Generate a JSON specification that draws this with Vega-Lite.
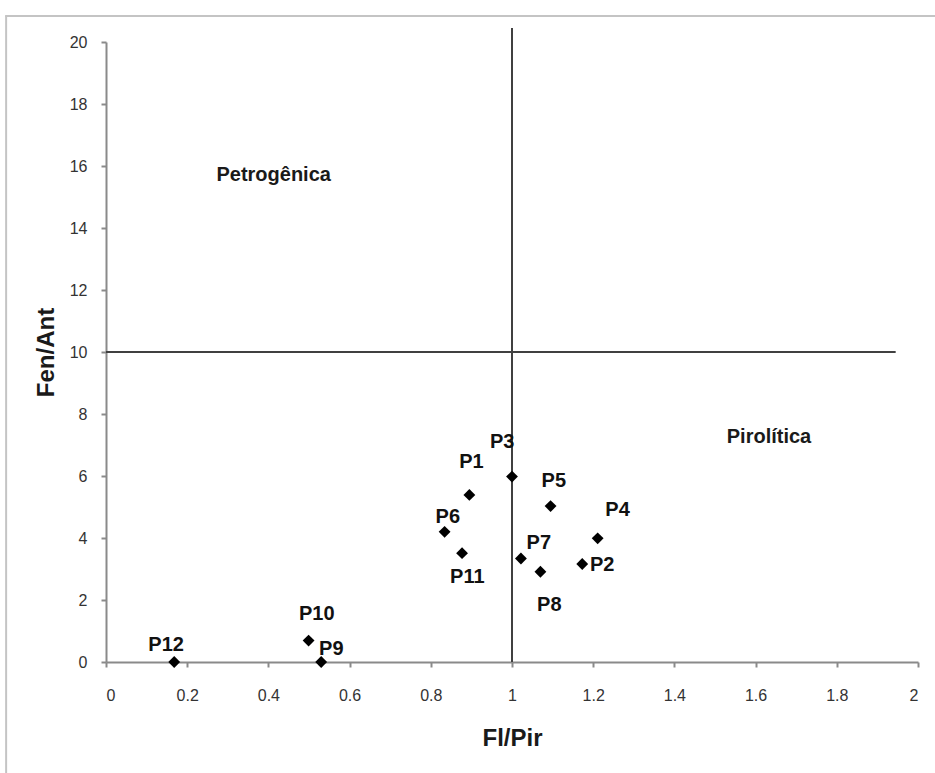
{
  "$schema": "https://vega.github.io/schema/vega-lite/v6.json",
  "autosize": {"type": "none"},
  "width": 812,
  "height": 620,
  "padding": {"left": 106, "top": 42, "right": 17, "bottom": 111},
  "background": "white",
  "config": {
    "view": {"stroke": null},
    "font": "Liberation Sans"
  },
  "datasets": {
    "points": [
      {"site": "P1", "flpir": 0.895, "fenant": 5.39, "lx": 0.90, "ly": 6.46},
      {"site": "P2", "flpir": 1.173, "fenant": 3.16, "lx": 1.222, "ly": 3.13},
      {"site": "P3", "flpir": 1.0, "fenant": 5.98, "lx": 0.976, "ly": 7.1},
      {"site": "P4", "flpir": 1.211, "fenant": 3.99, "lx": 1.26, "ly": 4.9},
      {"site": "P5", "flpir": 1.095, "fenant": 5.03, "lx": 1.103, "ly": 5.84},
      {"site": "P6", "flpir": 0.834, "fenant": 4.2, "lx": 0.842, "ly": 4.69},
      {"site": "P7", "flpir": 1.022, "fenant": 3.34, "lx": 1.066, "ly": 3.85},
      {"site": "P8", "flpir": 1.07, "fenant": 2.91, "lx": 1.092, "ly": 1.84},
      {"site": "P9", "flpir": 0.53, "fenant": 0.0, "lx": 0.555, "ly": 0.41},
      {"site": "P10", "flpir": 0.499, "fenant": 0.69, "lx": 0.519, "ly": 1.55},
      {"site": "P11", "flpir": 0.877, "fenant": 3.51, "lx": 0.89, "ly": 2.75},
      {"site": "P12", "flpir": 0.168, "fenant": 0.0, "lx": 0.148, "ly": 0.55}
    ],
    "regions": [
      {"name": "Petrogênica", "x": 0.413, "y": 15.7},
      {"name": "Pirolítica", "x": 1.633, "y": 7.26}
    ],
    "refs": [
      {"x": 1, "x2": 1, "y": 0, "y2": 20.45},
      {"x": 0, "x2": 1.945, "y": 10, "y2": 10}
    ],
    "frame": [
      {"x": -0.2485, "x2": 2.05, "y": 20.84, "y2": 20.84},
      {"x": -0.246, "x2": -0.246, "y": 20.84, "y2": -3.6}
    ]
  },
  "layer": [
    {
      "data": {"name": "frame"},
      "mark": {"type": "rule", "color": "#c4c4c4", "strokeWidth": 2, "clip": false},
      "encoding": {
        "x": {"field": "x", "type": "quantitative"},
        "x2": {"field": "x2"},
        "y": {"field": "y", "type": "quantitative"},
        "y2": {"field": "y2"}
      }
    },
    {
      "data": {"name": "refs"},
      "mark": {"type": "rule", "color": "#404040", "strokeWidth": 2, "clip": false},
      "encoding": {
        "x": {"field": "x", "type": "quantitative"},
        "x2": {"field": "x2"},
        "y": {"field": "y", "type": "quantitative"},
        "y2": {"field": "y2"}
      }
    },
    {
      "data": {"name": "points"},
      "mark": {"type": "point", "shape": "diamond", "filled": true, "color": "#000000", "size": 140, "opacity": 1, "clip": false},
      "encoding": {
        "x": {
          "field": "flpir", "type": "quantitative",
          "scale": {"domain": [0, 2], "nice": false, "zero": true},
          "axis": {
            "title": "Fl/Pir",
            "values": [0, 0.2, 0.4, 0.6, 0.8, 1, 1.2, 1.4, 1.6, 1.8, 2],
            "format": "~g",
            "grid": false,
            "domainColor": "#8a8a8a",
            "domainWidth": 2,
            "tickColor": "#8a8a8a",
            "tickWidth": 2,
            "tickSize": 5,
            "labelFont": "Liberation Sans",
            "labelFontSize": 16,
            "labelColor": "#333333",
            "labelPadding": 20,
            "titleFont": "Liberation Sans",
            "titleFontSize": 24,
            "titleFontWeight": "bold",
            "titleColor": "#1a1a1a",
            "titlePadding": 23
          }
        },
        "y": {
          "field": "fenant", "type": "quantitative",
          "scale": {"domain": [0, 20], "nice": false, "zero": true},
          "axis": {
            "title": "Fen/Ant",
            "values": [0, 2, 4, 6, 8, 10, 12, 14, 16, 18, 20],
            "grid": false,
            "domainColor": "#8a8a8a",
            "domainWidth": 2,
            "tickColor": "#8a8a8a",
            "tickWidth": 2,
            "tickSize": 5,
            "labelFont": "Liberation Sans",
            "labelFontSize": 16,
            "labelColor": "#333333",
            "labelPadding": 14,
            "titleFont": "Liberation Sans",
            "titleFontSize": 24,
            "titleFontWeight": "bold",
            "titleColor": "#1a1a1a",
            "titlePadding": 11
          }
        }
      }
    },
    {
      "data": {"name": "points"},
      "mark": {"type": "text", "font": "Liberation Sans", "fontWeight": "bold", "fontSize": 20, "color": "#111111", "align": "center", "baseline": "middle", "clip": false},
      "encoding": {
        "x": {"field": "lx", "type": "quantitative"},
        "y": {"field": "ly", "type": "quantitative"},
        "text": {"field": "site"}
      }
    },
    {
      "data": {"name": "regions"},
      "mark": {"type": "text", "font": "Liberation Sans", "fontWeight": "bold", "fontSize": 20, "color": "#1a1a1a", "align": "center", "baseline": "middle"},
      "encoding": {
        "x": {"field": "x", "type": "quantitative"},
        "y": {"field": "y", "type": "quantitative"},
        "text": {"field": "name"}
      }
    }
  ]
}
